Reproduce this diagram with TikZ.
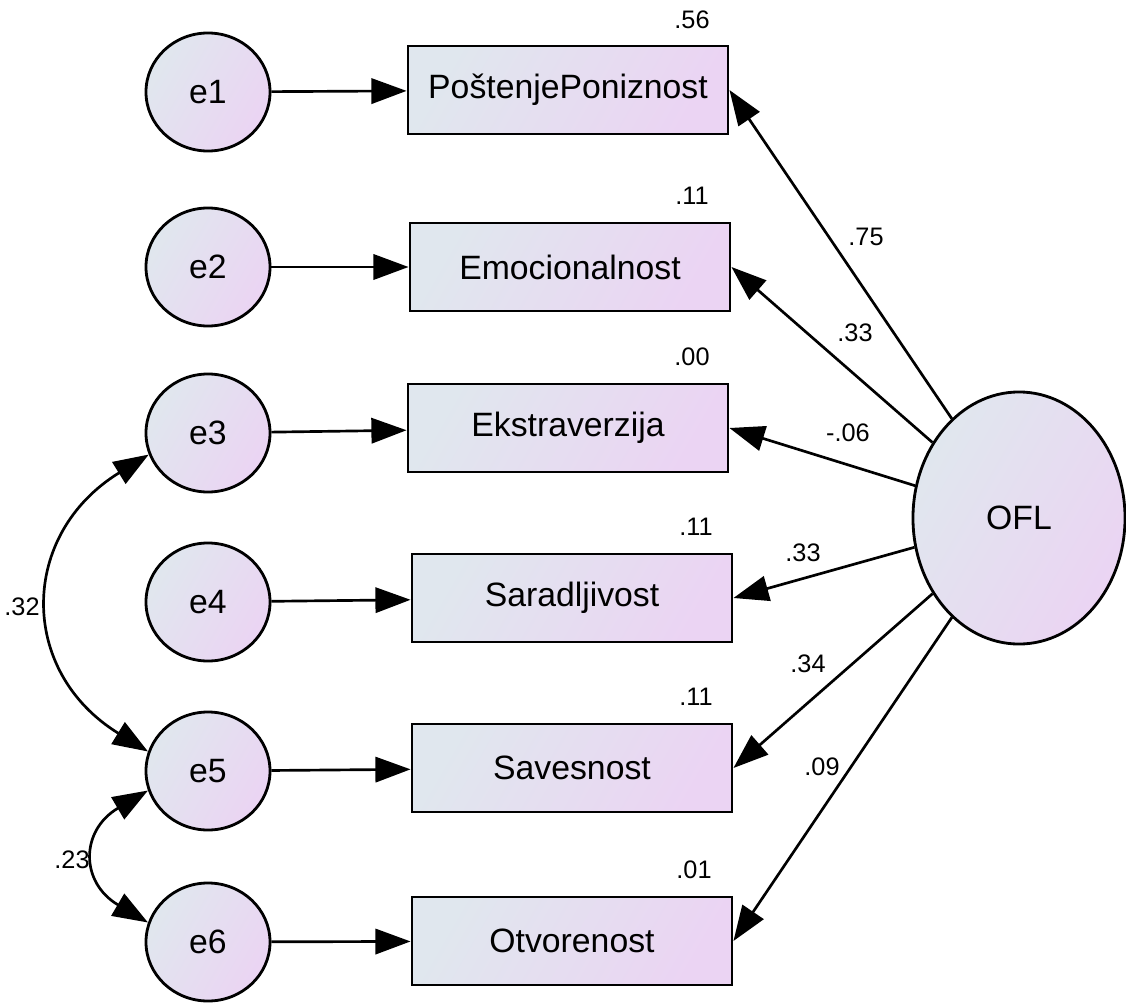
\documentclass[tikz,border=0pt]{standalone}
\usepackage{fontspec}
\setmainfont{Liberation Sans}
\usetikzlibrary{arrows.meta,shapes.geometric}
\definecolor{fillLeft}{RGB}{224,231,238}
\definecolor{fillRight}{RGB}{235,212,243}

\begin{document}
\begin{tikzpicture}[x=0.025cm,y=-0.025cm,>={Triangle[length=25pt,width=18pt]}]

    \tikzstyle{commonNode}=[draw=black, line width=2pt, left color=fillLeft, right color=fillRight, shading angle=60, font=\fontsize{24}{28}\selectfont]
    \tikzstyle{observed}=[commonNode, rectangle, minimum width=8cm, minimum height=2.2cm]
    \tikzstyle{errNode}=[commonNode, ellipse, minimum width=3.1cm, minimum height=2.95cm]
    \tikzstyle{latent}=[commonNode, ellipse, minimum width=5.3cm, minimum height=6.3cm]
    \tikzstyle{loading}=[->, line width=1.9pt]
    \tikzstyle{cov}=[<->, line width=1.9pt]
    \tikzstyle{weight}=[font=\fontsize{18}{22}\selectfont, inner sep=0pt]

    \useasboundingbox (0,0) rectangle (1126,1006);

    % Observed variables
    \node at (568, 90)  [observed] (PP) {PoštenjePoniznost};
    \node at (570, 267) [observed] (EM) {Emocionalnost};
    \node at (568, 428) [observed] (EK) {Ekstraverzija};
    \node at (572, 598) [observed] (SA) {Saradljivost};
    \node at (572, 768) [observed] (SV) {Savesnost};
    \node at (572, 941) [observed] (OT) {Otvorenost};

    % Errors
    \node at (208, 92)  [errNode] (e1) {e1}
        edge [loading] (PP);
    \node at (208, 267) [errNode] (e2) {e2}
        edge [loading] (EM);
    \node at (208, 433) [errNode] (e3) {e3}
        edge [loading] (EK);
    \node at (208, 602) [errNode] (e4) {e4}
        edge [loading] (SA);
    \node at (208, 771) [errNode] (e5) {e5}
        edge [loading] (SV);
    \node at (208, 942) [errNode] (e6) {e6}
        edge [loading] (OT);

    % Latent factor
    \node at (1019, 518) [latent] (OFL) {OFL}
        edge [loading] (PP.east)
        edge [loading] (EM.east)
        edge [loading] (EK.east)
        edge [loading] (SA.east)
        edge [loading] (SV.east)
        edge [loading] (OT.east);

    % Covariances
    \draw [cov] (e3.200) .. controls +(-130,80) and +(-130,-80) .. (e5.162);
    \draw [cov] (e5.198) .. controls +(-68,40) and +(-68,-40) .. (e6.162);

    % Squared multiple correlations
    \node at (692, 20)  [weight] {.56};
    \node at (692, 196) [weight] {.11};
    \node at (692, 357) [weight] {.00};
    \node at (696, 527) [weight] {.11};
    \node at (696, 697) [weight] {.11};
    \node at (694, 870) [weight] {.01};

    % Loadings and correlations
    \node at (866, 237) [weight] {.75};
    \node at (855, 333) [weight] {.33};
    \node at (848, 433) [weight] {-.06};
    \node at (803, 553) [weight] {.33};
    \node at (808, 664) [weight] {.34};
    \node at (822, 767) [weight] {.09};
    \node at (22, 607)  [weight] {.32};
    \node at (72, 860)  [weight] {.23};

\end{tikzpicture}
\end{document}
